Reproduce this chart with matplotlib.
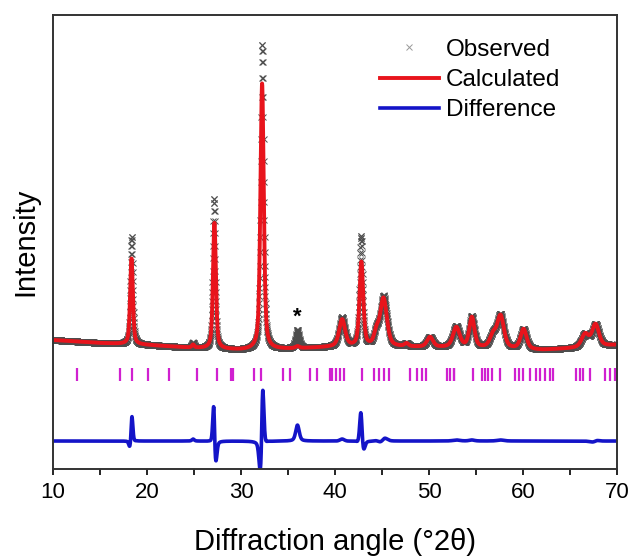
import numpy as np
import matplotlib
matplotlib.use("Agg")
import matplotlib.pyplot as plt

plt.rcParams['font.family'] = ['Liberation Sans', 'DejaVu Sans']

# reflections used in the refinement: position (deg 2theta), height, fwhm
calc_pos = [18.35, 24.9, 27.17, 32.24, 36.0, 40.75, 42.8, 44.4, 45.15, 47.6,
            50.1, 52.9, 54.55, 56.8, 57.6, 60.05, 66.6, 67.7]
calc_h = [86, 3, 126, 266, 2, 27, 84, 12, 48, 3,
          10, 20, 30, 12, 32, 20, 13, 22]
calc_w = [0.34, 0.3, 0.36, 0.42, 0.5, 0.75, 0.47, 0.6, 0.85, 0.5,
          0.75, 0.85, 0.65, 0.8, 0.85, 0.75, 0.9, 0.85]

# measured peaks (sharper and taller than the fit at the strong lines)
obs_pos = [18.37, 24.9, 27.13, 32.27, 36.0, 40.75, 42.77, 44.4, 45.17, 47.6,
           50.1, 52.9, 54.55, 56.8, 57.6, 60.05, 66.6, 67.72]
obs_h = [108, 5, 150, 305, 18, 29, 110, 13, 50, 3,
         10, 21, 31, 12, 33, 20, 13, 22]
obs_w = [0.3, 0.3, 0.31, 0.37, 0.45, 0.73, 0.39, 0.6, 0.83, 0.5,
         0.75, 0.85, 0.65, 0.8, 0.85, 0.75, 0.9, 0.83]

# background anchors
bg_x = [10, 15, 20, 25, 30, 35, 40, 47, 55, 62, 66, 70]
bg_y = [129, 126, 124, 121, 119, 120, 122, 122, 121, 119, 121, 124]

# Bragg reflection markers
bragg = [12.52, 17.13, 18.37, 20.07, 22.34, 25.28, 27.41, 28.95, 29.1, 31.38,
         32.09, 34.5, 35.21, 37.34, 38.05, 39.47, 39.65, 40.07, 40.53, 40.96,
         42.84, 44.18, 44.71, 45.24, 45.78, 47.98, 48.76, 49.22, 49.68,
         51.88, 52.23, 52.62, 52.7, 54.72, 55.6, 55.96, 56.31, 56.73, 57.55,
         59.15, 59.57, 60.03, 60.74, 61.38, 61.81, 62.34, 62.87, 63.23,
         65.64, 66.06, 66.42, 67.13, 68.72, 69.26, 69.79]

diff_offset = 28
tick_y = (88, 101)


def pvoigt(x, pos, h, w, eta=0.5):
    g = np.exp(-4 * np.log(2) * ((x - pos) / w) ** 2)
    l = 1 / (1 + (2 * (x - pos) / w) ** 2)
    return h * (eta * l + (1 - eta) * g)


def profile(x, pos, h, w):
    y = np.interp(x, bg_x, bg_y)
    for p, a, b in zip(pos, h, w):
        y = y + pvoigt(x, p, a, b)
    return y


tt = np.arange(10, 70.001, 0.02)
y_calc = profile(tt, calc_pos, calc_h, calc_w)
y_obs = profile(tt, obs_pos, obs_h, obs_w)
y_diff = y_obs - y_calc + diff_offset

fig = plt.figure(figsize=(6.31, 5.59), dpi=100)
ax = fig.add_axes([0.084, 0.161, 0.894, 0.812])

ax.plot(tt, y_obs, ls='none', marker='x', ms=4, mew=0.7, color='0.3',
        label='Observed')
ax.plot(tt, y_calc, color='#e8141c', lw=2.8, label='Calculated')
ax.plot(tt, y_diff, color='#1414c8', lw=2.6, label='Difference')
ax.vlines(bragg, tick_y[0], tick_y[1], color='#d020d0', lw=1.6)

ax.text(36.0, 152, '*', fontsize=16, fontweight='bold', ha='center', va='center')

ax.set_xlim(10, 70)
ax.set_ylim(0, 454)
ax.set_xticks(np.arange(10, 71, 10))
ax.set_xticks(np.arange(15, 70, 10), minor=True)
ax.set_yticks([])
ax.tick_params(axis='x', which='both', direction='out', length=4, width=1.2,
               labelsize=16, pad=5)
for s in ax.spines.values():
    s.set_linewidth(1.4)
    s.set_color('0.2')

ax.set_xlabel('Diffraction angle (°2θ)', fontsize=21, labelpad=18)
ax.set_ylabel('Intensity', fontsize=21, labelpad=10)

leg = ax.legend(loc='upper right', frameon=False, fontsize=17.5, numpoints=1,
                handlelength=2.4, handletextpad=0.3, labelspacing=0.34,
                borderaxespad=0.2, bbox_to_anchor=(0.925, 0.98))
leg.legend_handles[0].set_color('0.6')

fig.savefig('out.png', dpi=100)
